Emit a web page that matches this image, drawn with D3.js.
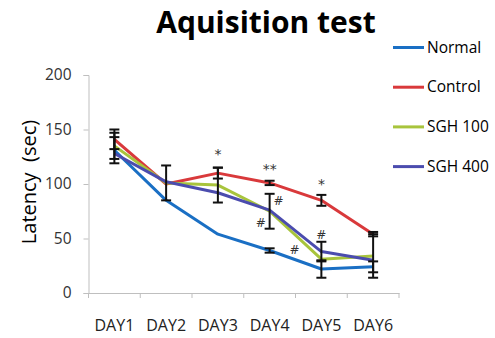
<!DOCTYPE html>
<html><head><meta charset="utf-8">
<script src="https://cdn.jsdelivr.net/npm/d3@7"></script>
<style>body{margin:0;background:#fff}svg{display:block}</style>
</head><body>
<script>
const days = ["DAY1","DAY2","DAY3","DAY4","DAY5","DAY6"];
const seriesNames = ["Normal","Control","SGH 100","SGH 400"];
const normal  = [131, 85, 54, 39, 22, 24];
const control = [141, 100, 110, 101, 85, 54];
const sgh100  = [135, 101, 99, 75, 31, 34];
const sgh400  = [128, 102, 92, 76, 38, 30];
const normalErr  = [12, 0, 0, 2, 8, 5];
const controlErr = [9, 0, 5, 2, 5, 2];
const sgh100Err  = [12, 16, 16, 16, 0, 20];
const sgh400Err  = [0, 0, 0, 0, 9, 0];
const yTicks = [0, 50, 100, 150, 200];
const marks = [
  {pos: 2, value: 127, text: "*"},
  {pos: 3, value: 113, text: "**"},
  {pos: 4, value: 99, text: "*"},
  {pos: 3.17, value: 84, text: "#"},
  {pos: 2.83, value: 64, text: "#"},
  {pos: 3.48, value: 39, text: "#"},
  {pos: 4, value: 53, text: "#"}
];
const colors = ["#1a6fc4", "#d9393b", "#a8c43c", "#4b4cae"];
const seriesVals = [normal, control, sgh100, sgh400];
const seriesErrs = [normalErr, controlErr, sgh100Err, sgh400Err];

const W = 495, H = 338;
const svg = d3.select("body").append("svg").attr("width", W).attr("height", H);
const mLeft = 88.5, mRight = 399, mTop = 75, mBottom = 293;

const x = d3.scaleBand().domain(days).range([mLeft, mRight]);
const xi = d3.scaleLinear().domain([0, days.length - 1])
  .range([x(days[0]) + x.bandwidth()/2, x(days[days.length-1]) + x.bandwidth()/2]);
const y = d3.scaleLinear().domain([0, 200]).range([mBottom, mTop]);

// title
svg.append("text").attr("x", 266).attr("y", 33).attr("text-anchor", "middle")
  .attr("font-family", "Open Sans, sans-serif").attr("font-weight", "bold")
  .attr("font-size", 30).attr("fill", "#000").text("Aquisition test");

// y axis
const ya = svg.append("g").attr("transform", `translate(${mLeft},0)`)
  .call(d3.axisLeft(y).tickValues(yTicks).tickSize(5).tickPadding(12));
ya.select(".domain").attr("stroke", "#bfbfbf");
ya.selectAll(".tick line").attr("stroke", "#bfbfbf");
ya.selectAll("text").attr("font-family", "Open Sans, sans-serif").attr("font-size", 15.5).attr("fill", "#333");

// x axis
const xa = svg.append("g").attr("transform", `translate(0,${mBottom})`)
  .call(d3.axisBottom(x).tickSize(0).tickPadding(27));
xa.select(".domain").attr("stroke", "#bfbfbf");
xa.selectAll("text").attr("font-family", "Open Sans, sans-serif").attr("font-size", 16).attr("fill", "#222");
xa.selectAll(".sep").data(d3.range(days.length + 1)).enter().append("line")
  .attr("x1", i => mLeft + i * x.step()).attr("x2", i => mLeft + i * x.step())
  .attr("y1", 0).attr("y2", 5).attr("stroke", "#bfbfbf");

// y title
svg.append("text").attr("transform", "translate(36,182) rotate(-90)")
  .attr("text-anchor", "middle").attr("font-family", "Open Sans, sans-serif")
  .attr("font-size", 20).attr("fill", "#000").attr("xml:space", "preserve").text("Latency  (sec)");

// lines
const line = d3.line().x((d, i) => xi(i)).y(d => y(d));
seriesVals.forEach((vals, s) => {
  svg.append("path").datum(vals).attr("d", line).attr("fill", "none")
    .attr("stroke", colors[s]).attr("stroke-width", 3).attr("stroke-linejoin", "round");
});

// error bars
seriesVals.forEach((vals, s) => {
  vals.forEach((v, i) => {
    const e = seriesErrs[s][i];
    if (!e) return;
    const g = svg.append("g").attr("stroke", "#111").attr("stroke-width", 2);
    const cx = xi(i);
    g.append("line").attr("x1", cx).attr("x2", cx).attr("y1", y(v - e)).attr("y2", y(v + e));
    g.append("line").attr("x1", cx - 5).attr("x2", cx + 5).attr("y1", y(v - e)).attr("y2", y(v - e));
    g.append("line").attr("x1", cx - 5).attr("x2", cx + 5).attr("y1", y(v + e)).attr("y2", y(v + e));
  });
});

// significance marks
svg.selectAll(".mk").data(marks).enter().append("text")
  .attr("x", d => xi(d.pos)).attr("y", d => y(d.value))
  .attr("text-anchor", "middle").attr("dominant-baseline", "middle")
  .attr("font-family", "DejaVu Sans, sans-serif")
  .attr("font-size", d => d.text === "#" ? 12 : 14)
  .attr("font-style", d => d.text === "#" ? "italic" : "normal")
  .attr("fill", "#333").text(d => d.text);

// legend
const lg = svg.append("g");
seriesNames.forEach((n, s) => {
  const ly = 47.5 + s * 39.7;
  lg.append("line").attr("x1", 393).attr("x2", 424).attr("y1", ly).attr("y2", ly)
    .attr("stroke", colors[s]).attr("stroke-width", 3);
  lg.append("text").attr("x", 427).attr("y", ly + 1).attr("dominant-baseline", "middle")
    .attr("font-family", "Open Sans, sans-serif").attr("font-size", 15.5).attr("fill", "#000").text(n);
});
</script>
</body></html>
